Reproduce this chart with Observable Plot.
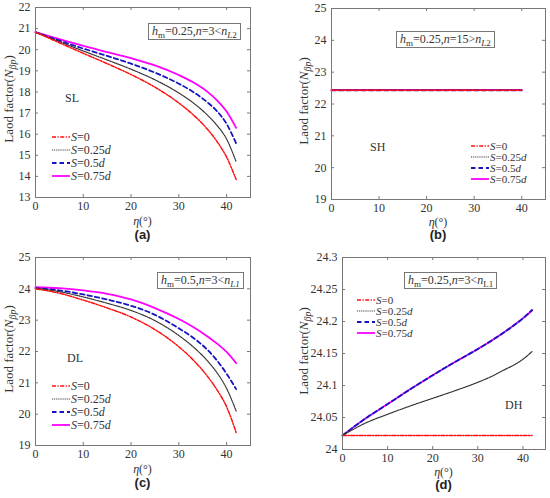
<!DOCTYPE html>
<html><head><meta charset="utf-8">
<script src="https://cdn.jsdelivr.net/npm/d3@7"></script>
<script src="https://cdn.jsdelivr.net/npm/@observablehq/plot@0.6"></script>
<style>
body{margin:0;background:#fff;}
#root{position:relative;width:550px;height:498px;font-family:"Liberation Serif","Times New Roman",serif;color:#333;overflow:hidden;}
.panel{position:absolute;width:275px;}
.panel svg{position:absolute;left:0;top:0;overflow:visible;}
.box{position:absolute;border:1px solid #777;background:#fff;font-size:12px;line-height:15px;padding:0 3px;white-space:nowrap;color:#333;}
.box sub{font-size:9px;vertical-align:-3px;line-height:0;}
.tag{position:absolute;font-size:12px;color:#333;line-height:12px;}
.row{position:absolute;white-space:nowrap;color:#333;display:flex;align-items:center;}
.row svg{position:static;margin-right:1px;}
</style></head>
<body><div id="root"></div>
<script>
// ---- data ----
const eta = [0, 5, 10, 15, 20, 25, 30, 33, 36, 38, 40, 42];
const etaB = [0, 10, 20, 30, 40];
const legendLabels = ["S=0", "S=0.25d", "S=0.5d", "S=0.75d"];
const xTicks = [0, 10, 20, 30, 40];

// (a) SL
const aS0   = [20.83, 20.33, 19.83, 19.34, 18.825, 18.225, 17.475, 16.92, 16.23, 15.65, 14.91, 13.85];
const aS025 = [20.83, 20.38, 19.94, 19.515, 19.075, 18.575, 17.95, 17.485, 16.90, 16.41, 15.77, 14.69];
const aS05  = [20.83, 20.43, 20.055, 19.705, 19.34, 18.915, 18.39, 18.00, 17.505, 17.085, 16.485, 15.565];
const aS075 = [20.84, 20.50, 20.18, 19.89, 19.60, 19.26, 18.80, 18.455, 18.005, 17.605, 17.07, 16.30];
const aYTicks = [13, 14, 15, 16, 17, 18, 19, 20, 21, 22];

// (b) SH
const bS0   = [22.43, 22.43, 22.43, 22.43, 22.43];
const bS025 = [22.43, 22.43, 22.43, 22.43, 22.43];
const bS05  = [22.43, 22.43, 22.43, 22.43, 22.43];
const bS075 = [22.44, 22.44, 22.44, 22.44, 22.44];
const bYTicks = [19, 20, 21, 22, 23, 24, 25];

// (c) DL
const cS0   = [24.00, 23.86, 23.64, 23.39, 23.10, 22.70, 22.15, 21.73, 21.205, 20.775, 20.235, 19.415];
const cS025 = [24.02, 23.91, 23.74, 23.54, 23.31, 22.985, 22.51, 22.15, 21.70, 21.32, 20.82, 20.10];
const cS05  = [24.02, 23.95, 23.82, 23.66, 23.46, 23.17, 22.74, 22.44, 22.05, 21.71, 21.29, 20.80];
const cS075 = [24.05, 24.02, 23.95, 23.84, 23.66, 23.385, 23.035, 22.78, 22.48, 22.25, 21.99, 21.63];
const cYTicks = [19, 20, 21, 22, 23, 24, 25];

// (d) DH
const dS0   = [24.022, 24.022, 24.022, 24.022, 24.022, 24.022, 24.022, 24.022, 24.022, 24.022, 24.022, 24.022];
const dS025 = [24.022, 24.041, 24.055, 24.068, 24.080, 24.092, 24.105, 24.114, 24.125, 24.132, 24.141, 24.153];
const dS05  = [24.022, 24.048, 24.071, 24.094, 24.116, 24.137, 24.157, 24.170, 24.184, 24.194, 24.205, 24.218];
const dS075 = [24.022, 24.048, 24.071, 24.094, 24.116, 24.137, 24.157, 24.170, 24.184, 24.194, 24.205, 24.217];
const dYTicks = [24, 24.05, 24.1, 24.15, 24.2, 24.25, 24.3];

// ---- styles ----
const styles = [
  {stroke: "#ff1010", dash: "4,1.5,1.2,1.5", width: 1.5},
  {stroke: "#333333", dash: "1.1,1", width: 1.2},
  {stroke: "#1515c0", dash: "4.5,3", width: 1.8},
  {stroke: "#ff00ff", dash: null, width: 1.8}
];
const drawOrder = [3, 2, 1, 0];

const panels = [
  {letter: "a", left: 0, top: 0, height: 250, mL: 35, mR: 25, mT: 7, mB: 53,
   x: eta, ys: [aS0, aS025, aS05, aS075], yDomain: [13, 22], yTicks: aYTicks,
   ylabX: 10, ylabY: 99, xlabY: 222, letterY: 236,
   box: {l: 148, t: 23, html: '<i>h</i><sub>m</sub>=0.25,<i>n</i>=3&lt;<i>n</i><sub><i>L</i>2</sub>'},
   tag: {text: "SL", l: 65, t: 92}, leg: {l: 52, rows: [137, 150, 163, 176], fs: 12}},
  {letter: "b", left: 275, top: 0, height: 250, mL: 56, mR: 5, mT: 8, mB: 51,
   x: etaB, ys: [bS0, bS025, bS05, bS075], yDomain: [19, 25], yTicks: bYTicks,
   ylabX: 30, ylabY: 101, xlabY: 223, letterY: 236,
   box: {l: 121, t: 31, html: '<i>h</i><sub>m</sub>=0.25,<i>n</i>=15&gt;<i>n</i><sub><i>L</i>2</sub>'},
   tag: {text: "SH", l: 95, t: 141}, leg: {l: 196, rows: [146, 157, 168, 179], fs: 11}},
  {letter: "c", left: 0, top: 250, height: 248, mL: 35, mR: 25, mT: 7, mB: 53,
   x: eta, ys: [cS0, cS025, cS05, cS075], yDomain: [19, 25], yTicks: cYTicks,
   ylabX: 10, ylabY: 99, xlabY: 220, letterY: 234,
   box: {l: 157, t: 22, html: '<i>h</i><sub>m</sub>=0.5,<i>n</i>=3&lt;<i>n</i><sub><i>L1</i></sub>'},
   tag: {text: "DL", l: 67, t: 102}, leg: {l: 52, rows: [136, 149, 162, 175], fs: 12}},
  {letter: "d", left: 275, top: 250, height: 248, mL: 67, mR: 5, mT: 7, mB: 49,
   x: eta, ys: [dS0, dS025, dS05, dS075], yDomain: [24, 24.3], yTicks: dYTicks,
   ylabX: 30, ylabY: 101, xlabY: 223, letterY: 236,
   box: {l: 129, t: 22, html: '<i>h</i><sub>m</sub>=0.25,<i>n</i>=3&lt;<i>n</i><sub>L1</sub>'},
   tag: {text: "DH", l: 230, t: 149}, leg: {l: 82, rows: [50, 61, 72, 83], fs: 11}}
];

const root = document.getElementById("root");
const fmtLegend = s => s.replace(/^S/, "<i>S</i>").replace(/d$/, "<i>d</i>");

for (const p of panels) {
  const div = document.createElement("div");
  div.className = "panel";
  div.style.left = p.left + "px"; div.style.top = p.top + "px"; div.style.height = p.height + "px";
  root.appendChild(div);
  const iw = 275 - p.mL - p.mR, ih = p.height - p.mT - p.mB;
  const lineMarks = drawOrder.map(k => {
    const rows = p.x.map((x, i) => ({x, y: p.ys[k][i]}));
    return Plot.line(rows, {x: "x", y: "y", stroke: styles[k].stroke, strokeWidth: styles[k].width,
      strokeDasharray: styles[k].dash, curve: "monotone-x"});
  });
  const fmt = d => String(+d.toFixed(2));
  const chart = Plot.plot({
    width: 275, height: p.height,
    marginLeft: p.mL, marginRight: p.mR, marginTop: p.mT, marginBottom: p.mB,
    x: {domain: [0, 45]}, y: {domain: p.yDomain},
    style: {fontFamily: '"Liberation Serif", serif', fontSize: "12px", color: "#333", background: "transparent"},
    marks: [
      Plot.axisX(xTicks, {tickSize: 0, tickPadding: 4, label: null, fontSize: 12, fill: "#333"}),
      Plot.axisY(p.yTicks, {tickSize: 0, tickPadding: 5, label: null, fontSize: 12, tickFormat: fmt, fill: "#333"}),
      Plot.tickX(xTicks, {x: d => d, insetTop: ih - 3, stroke: "#777"}),
      Plot.tickX(xTicks, {x: d => d, insetBottom: ih - 3, stroke: "#777"}),
      Plot.tickY(p.yTicks, {y: d => d, insetRight: iw - 3, stroke: "#777"}),
      Plot.tickY(p.yTicks, {y: d => d, insetLeft: iw - 3, stroke: "#777"}),
      ...lineMarks,
      Plot.frame({stroke: "#777"})
    ]
  });
  div.appendChild(chart);
  const svg = d3.select(chart);
  // y label
  const t = svg.append("text")
    .attr("transform", `translate(${p.ylabX},${p.ylabY}) rotate(-90)`)
    .attr("text-anchor", "middle").attr("dominant-baseline", "middle")
    .attr("fill", "#333").style("font-size", "13px");
  t.append("tspan").text("Laod factor(");
  t.append("tspan").attr("font-style", "italic").text("N");
  t.append("tspan").attr("font-style", "italic").attr("dy", 4).style("font-size", "10px").text("βp");
  t.append("tspan").attr("dy", -4).text(")");
  // x label
  const xl = svg.append("text")
    .attr("x", p.mL + iw / 2).attr("y", p.xlabY)
    .attr("text-anchor", "middle").attr("dominant-baseline", "middle")
    .attr("fill", "#333").style("font-size", "12px");
  xl.append("tspan").attr("font-style", "italic").text("η");
  xl.append("tspan").text("(°)");
  // panel letter
  svg.append("text").attr("x", p.mL + iw / 2).attr("y", p.letterY)
    .attr("text-anchor", "middle").attr("dominant-baseline", "middle")
    .attr("fill", "#222").style("font-family", '"Liberation Sans", Arial, sans-serif')
    .style("font-size", "13px").style("font-weight", "bold")
    .text(`(${p.letter})`);
  // annotation box
  const box = document.createElement("div");
  box.className = "box"; box.style.left = p.box.l + "px"; box.style.top = p.box.t + "px";
  box.innerHTML = p.box.html; div.appendChild(box);
  // region tag
  const tag = document.createElement("div");
  tag.className = "tag"; tag.style.left = p.tag.l + "px"; tag.style.top = p.tag.t + "px";
  tag.textContent = p.tag.text; div.appendChild(tag);
  // legend
  legendLabels.forEach((lab, k) => {
    const row = document.createElement("div");
    row.className = "row";
    const h = p.leg.fs;
    row.style.left = p.leg.l + "px"; row.style.top = (p.leg.rows[k] - h / 2) + "px";
    row.style.height = h + "px"; row.style.fontSize = h + "px"; row.style.lineHeight = h + "px";
    const st = styles[k];
    row.innerHTML = `<svg width="18" height="8"><line x1="0" y1="4" x2="18" y2="4" stroke="${st.stroke}" stroke-width="${st.width}" ${st.dash ? `stroke-dasharray="${st.dash}"` : ""}/></svg><span>${fmtLegend(lab)}</span>`;
    div.appendChild(row);
  });
}
</script></body></html>
